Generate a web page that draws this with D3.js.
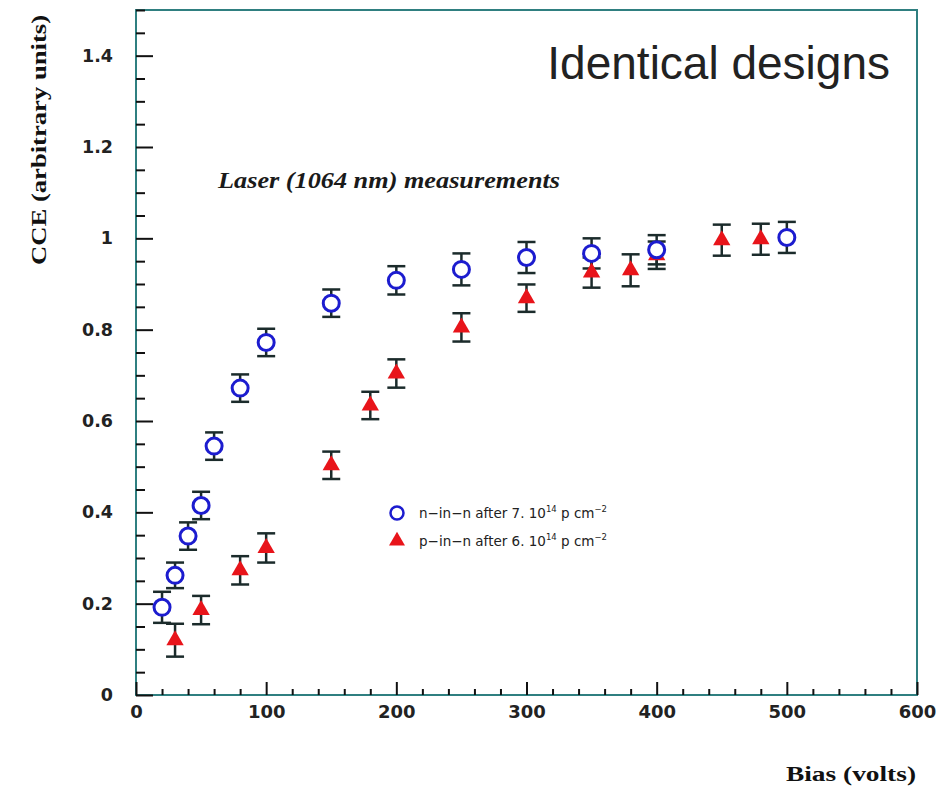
<!DOCTYPE html>
<html>
<head>
<meta charset="utf-8">
<script src="https://cdn.jsdelivr.net/npm/d3@7"></script>
<style>
  body { margin: 0; background: #fff; }
  svg { display: block; }
</style>
</head>
<body>
<div id="chart"></div>
<script>
// n-in-n after 7e14 p/cm2 (open blue circles)
const nBias = [20, 30, 40, 50, 60, 80, 100, 150, 200, 250, 300, 350, 400, 500];
const nCCE  = [0.192, 0.262, 0.348, 0.415, 0.545, 0.672, 0.772, 0.858, 0.908, 0.932, 0.958, 0.967, 0.975, 1.002];
const nErr  = [0.034, 0.028, 0.03, 0.03, 0.03, 0.03, 0.03, 0.03, 0.031, 0.035, 0.034, 0.033, 0.032, 0.034];

// p-in-n after 6e14 p/cm2 (red triangles)
const pBias = [30, 50, 80, 100, 150, 180, 200, 250, 300, 350, 380, 400, 450, 480];
const pCCE  = [0.12, 0.186, 0.273, 0.322, 0.503, 0.634, 0.704, 0.805, 0.869, 0.925, 0.93, 0.963, 0.996, 0.998];
const pErr  = [0.036, 0.031, 0.031, 0.032, 0.03, 0.03, 0.031, 0.031, 0.03, 0.033, 0.035, 0.03, 0.034, 0.034];

const xTicks = [0, 100, 200, 300, 400, 500, 600];
const yTicks = [0, 0.2, 0.4, 0.6, 0.8, 1, 1.2, 1.4];

const width = 952, height = 788;
const margin = { top: 10, right: 35, bottom: 93, left: 136 };
const axisColor = "#2f7f80";
const barColor = "#1b2b2b";
const blue = "#1c1ccf";
const red = "#e8141a";

const svg = d3.select("#chart").append("svg")
  .attr("width", width)
  .attr("height", height);

const x = d3.scaleLinear().domain([0, 600]).range([margin.left, width - margin.right]);
const y = d3.scaleLinear().domain([0, 1.5]).range([height - margin.bottom, margin.top]);

// frame
svg.append("rect")
  .attr("x", x(0)).attr("y", y(1.5))
  .attr("width", x(600) - x(0)).attr("height", y(0) - y(1.5))
  .attr("fill", "none")
  .attr("stroke", axisColor)
  .attr("stroke-width", 2);

// minor ticks
const xMinor = d3.range(0, 601, 20).filter(v => v % 100 !== 0);
const yMinor = d3.range(0, 1.501, 0.05).filter(v => Math.abs(v / 0.2 - Math.round(v / 0.2)) > 1e-6);

svg.append("g")
  .attr("transform", `translate(0, ${y(0)})`)
  .call(d3.axisBottom(x).tickValues(xMinor).tickSize(-6).tickFormat(""))
  .call(g => g.select(".domain").remove())
  .selectAll("line").attr("stroke", "#111").attr("stroke-width", 2);

svg.append("g")
  .attr("transform", `translate(${x(0)}, 0)`)
  .call(d3.axisLeft(y).tickValues(yMinor).tickSize(-9).tickFormat(""))
  .call(g => g.select(".domain").remove())
  .selectAll("line").attr("stroke", "#111").attr("stroke-width", 2);

// major ticks with labels
const xAxis = svg.append("g")
  .attr("transform", `translate(0, ${y(0)})`)
  .call(d3.axisBottom(x).tickValues(xTicks).tickSize(-13).tickPadding(10).tickFormat(d3.format("d")));
xAxis.select(".domain").remove();
xAxis.selectAll("line").attr("stroke", "#111").attr("stroke-width", 2);
xAxis.selectAll("text")
  .attr("font-family", "DejaVu Sans")
  .attr("font-weight", "bold")
  .attr("font-size", 18)
  .attr("fill", "#222");

const yAxis = svg.append("g")
  .attr("transform", `translate(${x(0)}, 0)`)
  .call(d3.axisLeft(y).tickValues(yTicks).tickSize(-17).tickPadding(23).tickFormat(d => d3.format("~g")(d)));
yAxis.select(".domain").remove();
yAxis.selectAll("line").attr("stroke", "#111").attr("stroke-width", 2);
yAxis.selectAll("text")
  .attr("font-family", "DejaVu Sans")
  .attr("font-weight", "bold")
  .attr("font-size", 17.5)
  .attr("fill", "#222");

// error bars
function errorBars(bias, cce, err) {
  const g = svg.append("g").attr("stroke", barColor).attr("stroke-width", 2.5);
  bias.forEach((b, i) => {
    const cx = x(b);
    g.append("line")
      .attr("x1", cx).attr("x2", cx)
      .attr("y1", y(cce[i] - err[i])).attr("y2", y(cce[i] + err[i]));
    [cce[i] - err[i], cce[i] + err[i]].forEach(v => {
      g.append("line")
        .attr("x1", cx - 9).attr("x2", cx + 9)
        .attr("y1", y(v)).attr("y2", y(v));
    });
  });
}
errorBars(nBias, nCCE, nErr);
errorBars(pBias, pCCE, pErr);

const tri = d3.symbol().type(d3.symbolTriangle).size(130);

svg.append("g").selectAll("path")
  .data(pBias.map((b, i) => [b, pCCE[i]]))
  .join("path")
  .attr("d", tri)
  .attr("transform", d => `translate(${x(d[0])}, ${y(d[1])})`)
  .attr("fill", red);

svg.append("g").selectAll("circle")
  .data(nBias.map((b, i) => [b, nCCE[i]]))
  .join("circle")
  .attr("cx", d => x(d[0]))
  .attr("cy", d => y(d[1]))
  .attr("r", 8)
  .attr("fill", "#fff")
  .attr("stroke", blue)
  .attr("stroke-width", 3);

// legend
const legend = svg.append("g").attr("transform", "translate(397, 513)");
legend.append("circle").attr("r", 6.5).attr("fill", "#fff").attr("stroke", blue).attr("stroke-width", 2.5);
legend.append("path").attr("d", tri.size(110)).attr("transform", "translate(0, 28)").attr("fill", red);

const legendRows = [
  ["n\u2212in\u2212n after 7. 10", "14", " p cm", "\u22122"],
  ["p\u2212in\u2212n after 6. 10", "14", " p cm", "\u22122"]
];
legendRows.forEach((row, i) => {
  const t = legend.append("text")
    .attr("x", 22).attr("y", i * 28 + 5)
    .attr("font-family", "DejaVu Sans")
    .attr("font-size", 13.5)
    .attr("fill", "#222");
  t.append("tspan").text(row[0]);
  t.append("tspan").attr("dy", -6).attr("font-size", 8.5).text(row[1]);
  t.append("tspan").attr("dy", 6).text(row[2]);
  t.append("tspan").attr("dy", -6).attr("font-size", 8.5).text(row[3]);
});

// titles
svg.append("text")
  .attr("x", 218).attr("y", 188)
  .attr("font-family", "Liberation Serif")
  .attr("font-style", "italic")
  .attr("font-weight", "bold")
  .attr("font-size", 23)
  .attr("textLength", 342)
  .attr("lengthAdjust", "spacingAndGlyphs")
  .attr("fill", "#1a1a1a")
  .text("Laser (1064 nm) measurements");

svg.append("text")
  .attr("x", 890).attr("y", 79)
  .attr("text-anchor", "end")
  .attr("font-family", "Liberation Sans")
  .attr("font-size", 46)
  .attr("fill", "#222")
  .text("Identical designs");

svg.append("text")
  .attr("x", 916).attr("y", 781)
  .attr("text-anchor", "end")
  .attr("font-family", "Liberation Serif")
  .attr("font-weight", "bold")
  .attr("font-size", 20)
  .attr("textLength", 130)
  .attr("lengthAdjust", "spacingAndGlyphs")
  .attr("fill", "#111")
  .text("Bias (volts)");

svg.append("text")
  .attr("transform", "translate(46, 140) rotate(-90)")
  .attr("text-anchor", "middle")
  .attr("font-family", "Liberation Serif")
  .attr("font-weight", "bold")
  .attr("font-size", 20)
  .attr("textLength", 250)
  .attr("lengthAdjust", "spacingAndGlyphs")
  .attr("fill", "#111")
  .text("CCE (arbitrary units)");
</script>
</body>
</html>
